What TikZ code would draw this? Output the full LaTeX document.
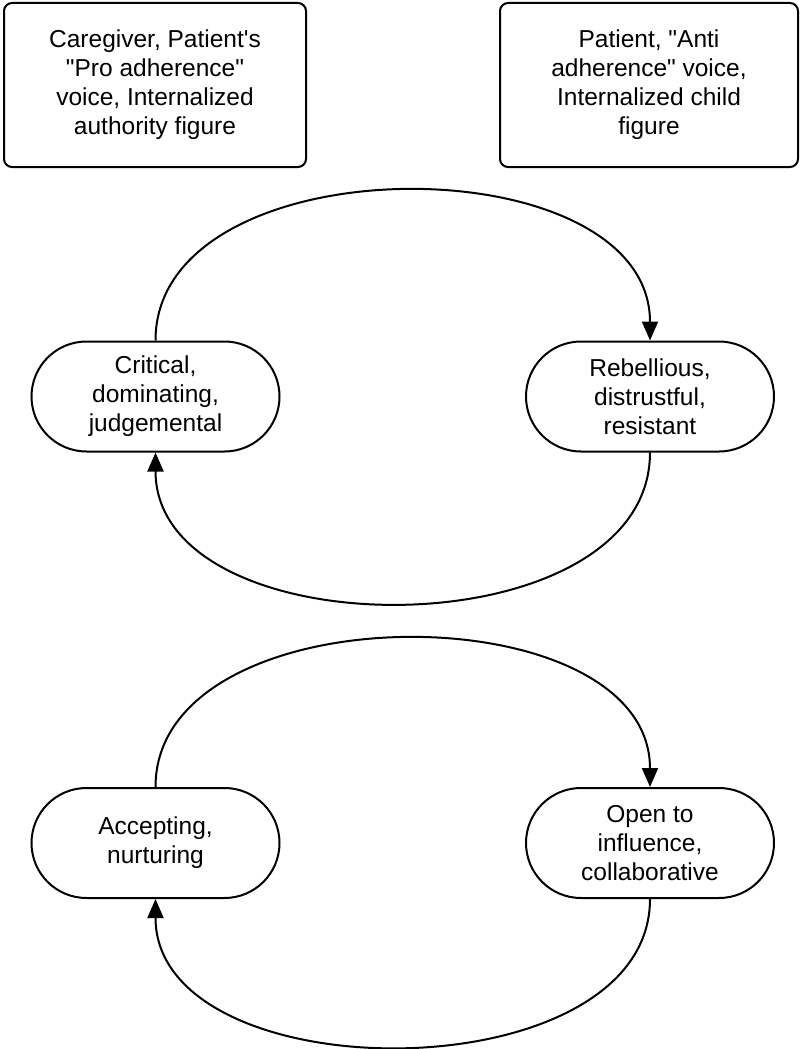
\documentclass[tikz,border=0pt]{standalone}
\usepackage{fontspec}
\setmainfont{Liberation Sans}[Ligatures=TeXOff]
\usetikzlibrary{arrows.meta}
\begin{document}
\begin{tikzpicture}[x=1pt,y=-1pt,
  every node/.style={font=\fontsize{24.5}{29}\selectfont, align=center, inner sep=0pt},
  rolebox/.style={draw, line width=2pt, rounded corners=8pt, minimum height=164pt},
  pill/.style={draw, line width=2pt, rounded corners=55pt, minimum width=248pt, minimum height=110pt},
  loop/.style={line width=2pt, -{Triangle[length=19pt,width=16pt]}}]
\useasboundingbox (0,0) rectangle (800,1049);

% header boxes
\node[rolebox, minimum width=302pt] (caregiver) at (155,85)
  {Caregiver, Patient's\\"Pro adherence"\\voice, Internalized\\authority figure};
\node[rolebox, minimum width=298pt] (patient) at (649,85)
  {Patient, "Anti\\adherence" voice,\\Internalized child\\figure};

% upper cycle
\node[pill] (critical) at (155.5,396.5) {Critical,\\dominating,\\judgemental};
\node[pill] (rebel) at (650,396.5) {Rebellious,\\distrustful,\\resistant};
\draw[loop] (critical.north) .. controls +(0,-199) and +(0,-199) .. (rebel.north);
\draw[loop] (rebel.south) .. controls +(0,200) and +(0,200) .. (critical.south);

% lower cycle
\node[pill] (accept) at (155.5,843) {Accepting,\\nurturing};
\node[pill] (open) at (650,843) {Open to\\influence,\\collaborative};
\draw[loop] (accept.north) .. controls +(0,-197) and +(0,-197) .. (open.north);
\draw[loop] (open.south) .. controls +(0,196) and +(0,196) .. (accept.south);
\end{tikzpicture}
\end{document}
